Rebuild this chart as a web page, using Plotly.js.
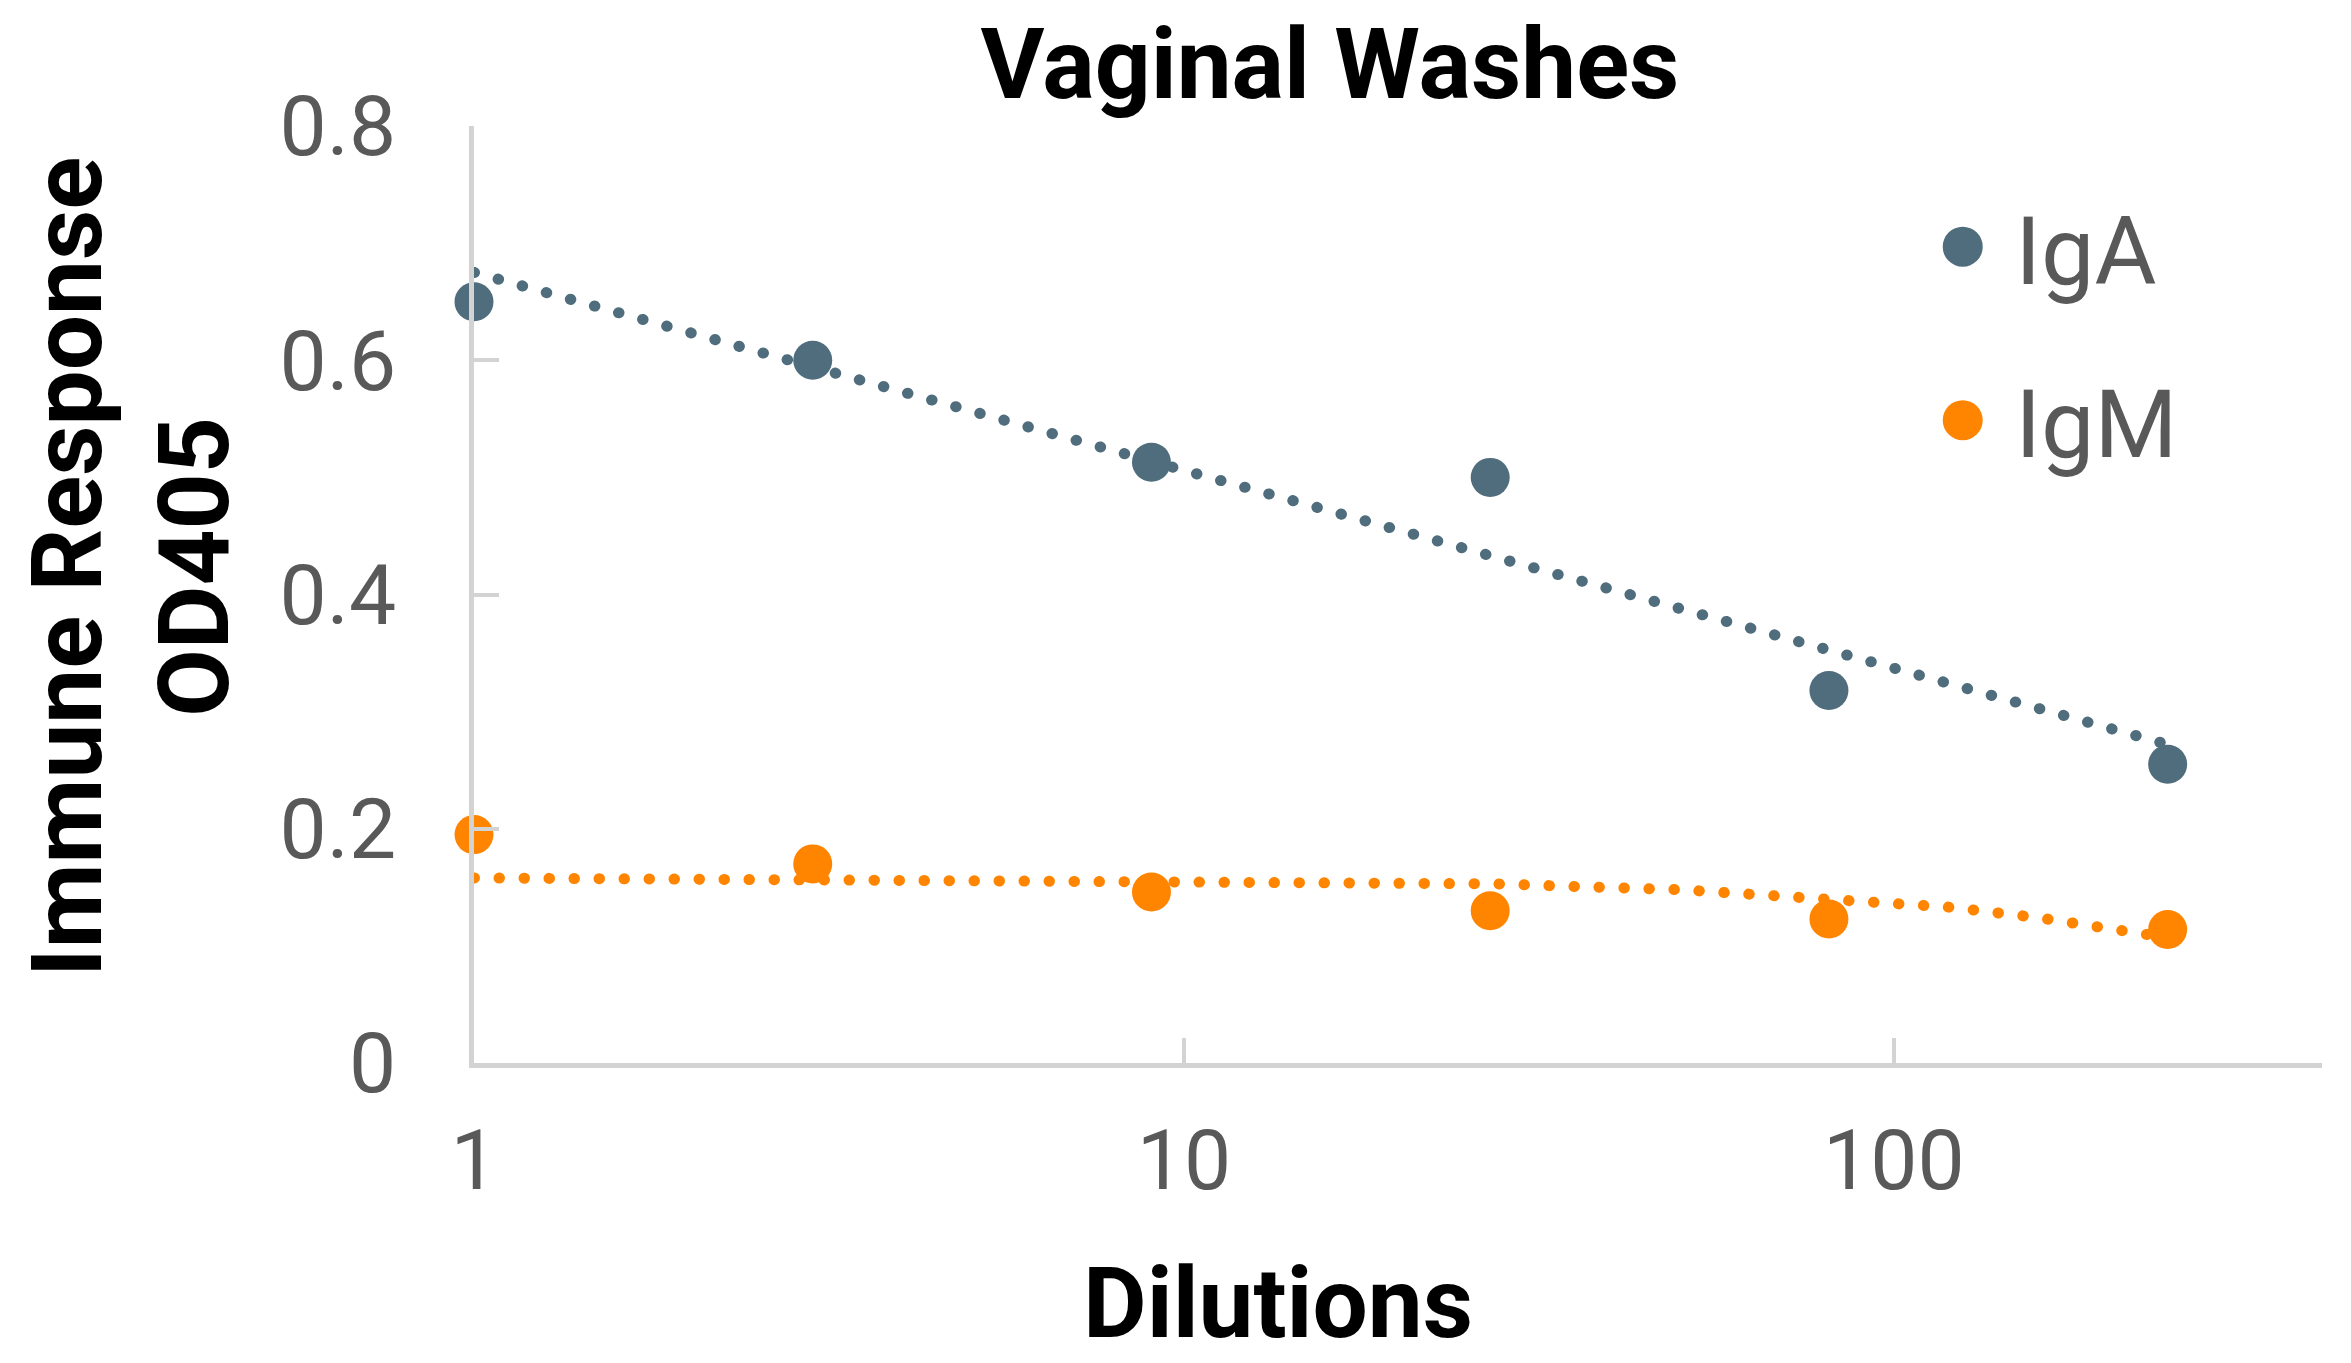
<!DOCTYPE html>
<html>
<head>
<meta charset="utf-8">
<script src="https://cdn.plot.ly/plotly-3.0.1.min.js"></script>
<style>html,body{margin:0;padding:0;background:#fff;}</style>
</head>
<body>
<div id="chart" style="width:2351px;height:1363px;"></div>
<script>
// ---- data ----
const dilutions = [1, 3, 9, 27, 81, 243];
const igA = [0.65, 0.60, 0.513, 0.50, 0.318, 0.255];
const igM = [0.195, 0.17, 0.146, 0.13, 0.123, 0.114];

// dotted trend lines as drawn in the reference
const igATrendX = [1, 243];
const igATrend = [0.675, 0.272];
const igMTrendX = [1, 3, 9, 27, 50, 81, 120, 160, 200, 243];
const igMTrend = [0.158, 0.157, 0.156, 0.153, 0.148, 0.141, 0.133, 0.124, 0.116, 0.107];

const xTickVals = [1, 10, 100];
const xTickText = ['1', '10', '100'];
const yTickVals = [0, 0.2, 0.4, 0.6, 0.8];
const yTickText = ['0', '0.2', '0.4', '0.6', '0.8'];

const seriesNames = ['IgA', 'IgM'];
const titleText = 'Vaginal Washes';
const xTitle = 'Dilutions';
const yTitle = 'Immune Response<br>OD405';

const colA = '#4f6d7c';
const colM = '#ff8500';
const gridGray = '#d3d3d3';
const tickGray = '#595959';
const FONT = 'Roboto, "Open Sans", Arial, sans-serif';

const traces = [
  {x: igATrendX, y: igATrend, mode: 'lines', showlegend: false, hoverinfo: 'skip',
   line: {color: colA, width: 11, dash: '0.5px,24.5px'}},
  {x: igMTrendX, y: igMTrend, mode: 'lines', showlegend: false, hoverinfo: 'skip',
   line: {color: colM, width: 11, dash: '0.5px,24.5px'}},
  {x: dilutions, y: igA, name: seriesNames[0], mode: 'markers', legendgroup: 'a',
   marker: {color: colA, size: 39}, cliponaxis: false},
  {x: dilutions, y: igM, name: seriesNames[1], mode: 'markers', legendgroup: 'm',
   marker: {color: colM, size: 39}, cliponaxis: false}
];

const layout = {
  width: 2351, height: 1363, autosize: false,
  paper_bgcolor: '#ffffff', plot_bgcolor: '#ffffff',
  margin: {l: 474, r: 29, t: 126, b: 300, pad: 0},
  font: {family: FONT, color: tickGray},
  title: {text: titleText, x: 0.5657, xanchor: 'center', xref: 'container',
          y: 0.953, yanchor: 'middle', yref: 'container',
          font: {family: FONT, size: 98, color: '#000000', weight: 'bold'}},
  xaxis: {type: 'log', range: [0, 2.603], showgrid: false, zeroline: false,
          showline: true, linecolor: gridGray, linewidth: 5,
          ticks: 'inside', ticklen: 25, tickwidth: 4, tickcolor: gridGray,
          tickvals: xTickVals, ticktext: xTickText,
          tickfont: {family: FONT, size: 84, color: tickGray},
          ticklabelstandoff: 20, fixedrange: true},
  yaxis: {range: [0, 0.8], showgrid: false, zeroline: false,
          showline: true, linecolor: gridGray, linewidth: 5,
          ticks: 'inside', ticklen: 25, tickwidth: 4, tickcolor: gridGray,
          tickvals: yTickVals, ticktext: yTickText,
          tickfont: {family: FONT, size: 84, color: tickGray},
          ticklabelstandoff: 56, fixedrange: true},
  legend: {x: 0.788, y: 0.944, xanchor: 'left', yanchor: 'top',
           bgcolor: 'rgba(0,0,0,0)', borderwidth: 0,
           font: {family: FONT, size: 95, color: tickGray},
           traceorder: 'grouped', tracegroupgap: 47, itemwidth: 75},
  annotations: [
    {text: xTitle, xref: 'paper', yref: 'paper', x: (1278 - 474) / 1848, y: -(1303 - 1063) / 937,
     xanchor: 'center', yanchor: 'middle', showarrow: false,
     font: {family: FONT, size: 98, color: '#000000', weight: 'bold'}},
    {text: yTitle, xref: 'paper', yref: 'paper', x: (131 - 474) / 1848, y: (1063 - 567) / 937,
     xanchor: 'center', yanchor: 'middle', showarrow: false, textangle: -90,
     font: {family: FONT, size: 98, color: '#000000', weight: 'bold'}}
  ],
  showlegend: true
};

Plotly.newPlot('chart', traces, layout, {staticPlot: true, displayModeBar: false}).then(function () {
  document.querySelectorAll('.scatterlayer .js-line').forEach(function (p) {
    p.style.strokeLinecap = 'round';
  });
  document.querySelectorAll('.legend .legendpoints path.scatterpts').forEach(function (p) {
    p.setAttribute('d', 'M10,0A20,20 0 1,1 -10,-20A20,20 0 0,1 10,0Z');
  });
});
</script>
</body>
</html>
